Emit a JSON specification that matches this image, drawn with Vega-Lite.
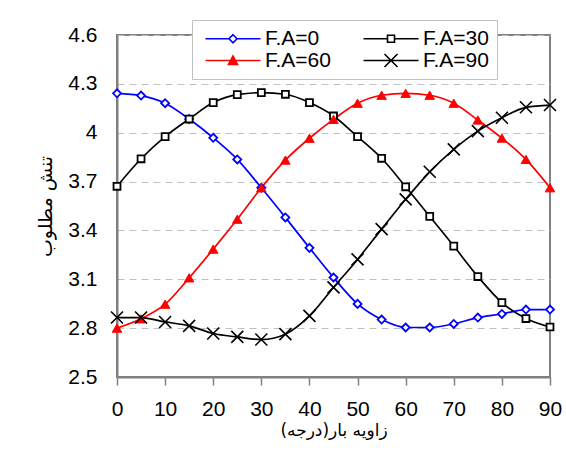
{
  "$schema": "https://vega.github.io/schema/vega-lite/v6.json",
  "width": 433,
  "height": 342,
  "autosize": {"type": "none"},
  "padding": {"left": 117, "top": 35, "right": 16, "bottom": 87},
  "background": "white",
  "config": {
    "view": {"stroke": "#808080", "strokeWidth": 2},
    "axis": {"labelFont": "Liberation Sans", "titleFont": "DejaVu Sans", "labelColor": "black", "titleColor": "black", "titleFontWeight": "normal"}
  },
  "data": {"values": [
    {"x":0,"y":4.242,"s":"F.A=0"},{"x":5,"y":4.228,"s":"F.A=0"},{"x":10,"y":4.181,"s":"F.A=0"},{"x":15,"y":4.084,"s":"F.A=0"},{"x":20,"y":3.969,"s":"F.A=0"},{"x":25,"y":3.836,"s":"F.A=0"},{"x":30,"y":3.662,"s":"F.A=0"},{"x":35,"y":3.48,"s":"F.A=0"},{"x":40,"y":3.293,"s":"F.A=0"},{"x":45,"y":3.111,"s":"F.A=0"},{"x":50,"y":2.949,"s":"F.A=0"},{"x":55,"y":2.853,"s":"F.A=0"},{"x":60,"y":2.804,"s":"F.A=0"},{"x":65,"y":2.804,"s":"F.A=0"},{"x":70,"y":2.826,"s":"F.A=0"},{"x":75,"y":2.865,"s":"F.A=0"},{"x":80,"y":2.887,"s":"F.A=0"},{"x":85,"y":2.914,"s":"F.A=0"},{"x":90,"y":2.914,"s":"F.A=0"},
    {"x":0,"y":3.671,"s":"F.A=30"},{"x":5,"y":3.84,"s":"F.A=30"},{"x":10,"y":3.976,"s":"F.A=30"},{"x":15,"y":4.084,"s":"F.A=30"},{"x":20,"y":4.185,"s":"F.A=30"},{"x":25,"y":4.234,"s":"F.A=30"},{"x":30,"y":4.246,"s":"F.A=30"},{"x":35,"y":4.236,"s":"F.A=30"},{"x":40,"y":4.185,"s":"F.A=30"},{"x":45,"y":4.103,"s":"F.A=30"},{"x":50,"y":3.976,"s":"F.A=30"},{"x":55,"y":3.843,"s":"F.A=30"},{"x":60,"y":3.668,"s":"F.A=30"},{"x":65,"y":3.486,"s":"F.A=30"},{"x":70,"y":3.304,"s":"F.A=30"},{"x":75,"y":3.117,"s":"F.A=30"},{"x":80,"y":2.957,"s":"F.A=30"},{"x":85,"y":2.859,"s":"F.A=30"},{"x":90,"y":2.807,"s":"F.A=30"},
    {"x":0,"y":2.8,"s":"F.A=60"},{"x":5,"y":2.857,"s":"F.A=60"},{"x":10,"y":2.947,"s":"F.A=60"},{"x":15,"y":3.109,"s":"F.A=60"},{"x":20,"y":3.285,"s":"F.A=60"},{"x":25,"y":3.469,"s":"F.A=60"},{"x":30,"y":3.662,"s":"F.A=60"},{"x":35,"y":3.832,"s":"F.A=60"},{"x":40,"y":3.966,"s":"F.A=60"},{"x":45,"y":4.082,"s":"F.A=60"},{"x":50,"y":4.181,"s":"F.A=60"},{"x":55,"y":4.23,"s":"F.A=60"},{"x":60,"y":4.242,"s":"F.A=60"},{"x":65,"y":4.23,"s":"F.A=60"},{"x":70,"y":4.181,"s":"F.A=60"},{"x":75,"y":4.078,"s":"F.A=60"},{"x":80,"y":3.967,"s":"F.A=60"},{"x":85,"y":3.836,"s":"F.A=60"},{"x":90,"y":3.662,"s":"F.A=60"},
    {"x":0,"y":2.865,"s":"F.A=90"},{"x":5,"y":2.865,"s":"F.A=90"},{"x":10,"y":2.838,"s":"F.A=90"},{"x":15,"y":2.814,"s":"F.A=90"},{"x":20,"y":2.767,"s":"F.A=90"},{"x":25,"y":2.746,"s":"F.A=90"},{"x":30,"y":2.73,"s":"F.A=90"},{"x":35,"y":2.763,"s":"F.A=90"},{"x":40,"y":2.875,"s":"F.A=90"},{"x":45,"y":3.05,"s":"F.A=90"},{"x":50,"y":3.222,"s":"F.A=90"},{"x":55,"y":3.408,"s":"F.A=90"},{"x":60,"y":3.591,"s":"F.A=90"},{"x":65,"y":3.76,"s":"F.A=90"},{"x":70,"y":3.898,"s":"F.A=90"},{"x":75,"y":4.01,"s":"F.A=90"},{"x":80,"y":4.092,"s":"F.A=90"},{"x":85,"y":4.156,"s":"F.A=90"},{"x":90,"y":4.17,"s":"F.A=90"}
  ]},
  "encoding": {
    "x": {"field": "x", "type": "quantitative",
      "scale": {"domain": [0, 90], "nice": false},
      "axis": {"values": [0,10,20,30,40,50,60,70,80,90], "title": "زاویه بار(درجه)", "titleFontSize": 17, "titlePadding": 3,
        "labelFontSize": 21, "labelPadding": 13, "tickSize": 8, "tickColor": "#808080", "tickWidth": 1.5,
        "domainColor": "#808080", "domainWidth": 2, "grid": false, "labelFlush": false}},
    "y": {"field": "y", "type": "quantitative",
      "scale": {"domain": [2.5, 4.6], "nice": false, "zero": false},
      "axis": {"values": [2.5,2.8,3.1,3.4,3.7,4.0,4.3,4.6], "format": "~g", "title": "تنش مطلوب", "titleFontSize": 19, "titlePadding": 12,
        "labelFontSize": 21, "labelPadding": 20, "ticks": false,
        "domainColor": "#808080", "domainWidth": 2, "grid": true, "gridColor": "#c0c0c0", "gridDash": [7, 5], "gridWidth": 1, "labelFlush": false}}
  },
  "layer": [
    {
      "mark": {"type": "line", "interpolate": "monotone", "strokeWidth": 1.7},
      "encoding": {
        "stroke": {"field": "s", "type": "nominal",
          "scale": {"domain": ["F.A=0","F.A=30","F.A=60","F.A=90"], "range": ["#0000ff","#000000","#ff0000","#000000"]},
          "legend": {"orient": "none", "legendX": 75, "legendY": -15, "columns": 2, "direction": "horizontal", "columnPadding": 27, "rowPadding": 0,
            "padding": 8, "fillColor": "white", "strokeColor": "#c0c0c0", "title": null,
            "labelFont": "Liberation Sans", "labelFontSize": 21, "labelColor": "black", "labelOffset": 44, "symbolSize": 100,
            "encode": {"symbols": {"update": {
              "shape": {"signal": "datum.value === 'F.A=0' ? 'M-1,0L3.7,0M5.3,0L10,0M4.5,-0.8L5.3,0L4.5,0.8L3.7,0Z' : datum.value === 'F.A=30' ? 'M-1,0L3.8,0M5.2,0L10,0M3.8,-0.7L5.2,-0.7L5.2,0.7L3.8,0.7Z' : datum.value === 'F.A=60' ? 'M-1,0L10,0M4.5,-0.9L5.4,0.8L3.6,0.8Z' : 'M-1,0L10,0M3.2,-1.3L5.8,1.3M5.8,-1.3L3.2,1.3'"},
              "fill": {"signal": "datum.value === 'F.A=60' ? '#ff0000' : datum.value === 'F.A=90' ? 'transparent' : 'white'"},
              "strokeWidth": {"value": 1.6},
              "size": {"value": 100},
              "opacity": {"value": 1}
            }}}
          }}
      }
    },
    {
      "transform": [{"filter": "datum.s === 'F.A=0'"}],
      "mark": {"type": "point", "shape": "diamond", "size": 64, "stroke": "#0000ff", "fill": "white", "filled": false, "strokeWidth": 1.8, "opacity": 1}
    },
    {
      "transform": [{"filter": "datum.s === 'F.A=30'"}],
      "mark": {"type": "point", "shape": "square", "size": 48, "stroke": "#000000", "fill": "white", "filled": false, "strokeWidth": 1.8, "opacity": 1}
    },
    {
      "transform": [{"filter": "datum.s === 'F.A=60'"}],
      "mark": {"type": "point", "shape": "triangle-up", "size": 90, "stroke": "#ff0000", "fill": "#ff0000", "filled": true, "strokeWidth": 1, "opacity": 1}
    },
    {
      "transform": [{"filter": "datum.s === 'F.A=90'"}],
      "mark": {"type": "point", "shape": "M-1,-1L1,1M1,-1L-1,1", "size": 144, "stroke": "#000000", "fill": "transparent", "filled": false, "strokeWidth": 1.6, "opacity": 1}
    }
  ]
}
